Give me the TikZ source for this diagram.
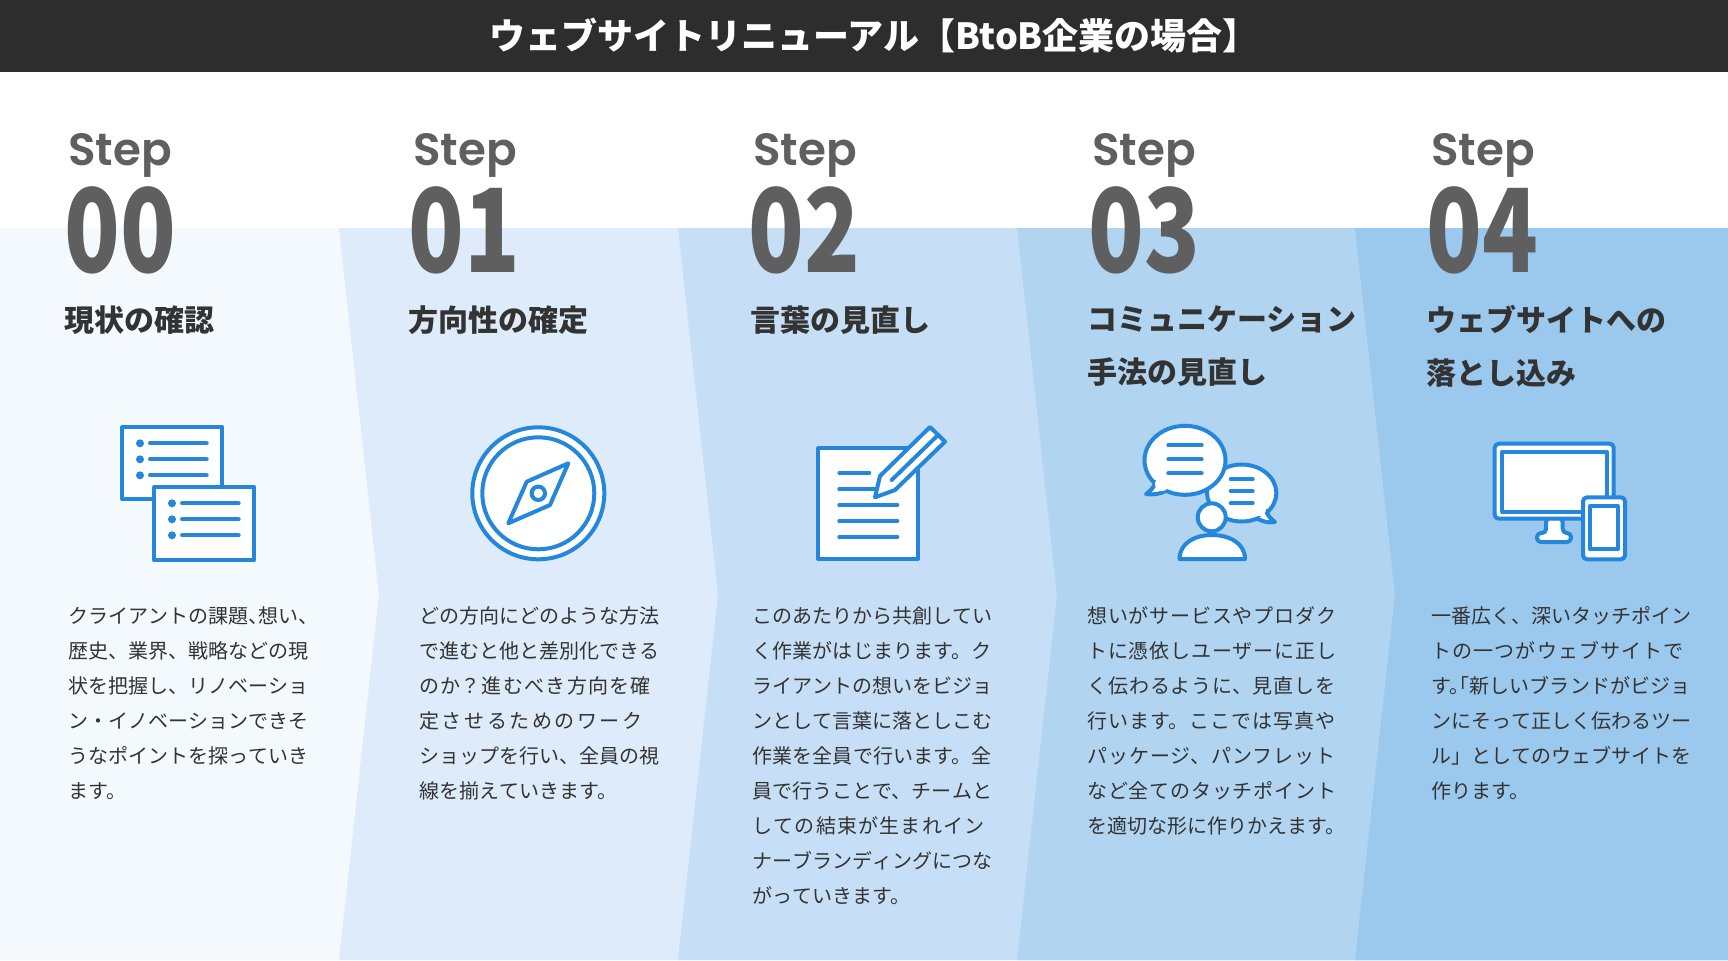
\documentclass[tikz,border=0pt]{standalone}
\usepackage{fontspec}
\setmainfont{Noto Sans CJK JP}
\newfontfamily\stepfont{Poppins SemiBold}
\newfontfamily\numfont[FakeStretch=0.79]{Noto Sans CJK JP Black}
\definecolor{barcol}{HTML}{2D2D2D}
\definecolor{stepcol}{HTML}{5F5F5F}
\definecolor{headcol}{HTML}{333333}
\definecolor{iconcol}{HTML}{2587DC}
\definecolor{bandA}{HTML}{F4F9FE}
\definecolor{bandB}{HTML}{DDEBFA}
\definecolor{bandC}{HTML}{C7DFF6}
\definecolor{bandD}{HTML}{B1D4F1}
\definecolor{bandE}{HTML}{9BC8ED}
\tikzset{
  steplabel/.style={anchor=base west,inner sep=0pt,text=stepcol,font=\stepfont\fontsize{22.6}{23}\selectfont},
  numlabel/.style={anchor=base west,inner sep=0pt,text=stepcol,font=\numfont\fontsize{58}{58}\selectfont},
  headlabel/.style={anchor=north west,inner sep=0pt,align=left,text=headcol,font=\bfseries\fontsize{15}{26.5}\selectfont},
  bodytext/.style={anchor=north west,inner sep=0pt,text=headcol,font=\fontsize{10}{17.5}\selectfont},
  iconline/.style={draw=iconcol,line width=2pt,line join=round,line cap=round,fill=white},
  iconrow/.style={draw=iconcol,line width=2pt,line cap=round},
}
% one justified block: all lines but the last fill the width
\newcommand{\fitlines}[1]{\XeTeXlinebreaklocale "ja"\XeTeXlinebreakskip=0pt plus 3pt minus 0.4pt
  \tolerance=10000 \parindent=0pt \parfillskip=0pt #1}
\newcommand{\lastline}[1]{\par\parfillskip=0pt plus 1fil #1\par}
\newcommand{\kanagap}{\hskip 0pt plus 3pt\relax}
\begin{document}
\begin{tikzpicture}[x=0.5pt,y=-0.5pt]
  \useasboundingbox (0,0) rectangle (1728,960);
  % Bands
  \fill[white] (0,0) rectangle (1728,960);
  \fill[bandA] (0,228) rectangle (1728,960);
  \fill[bandB] (339,228) -- (1728,228) -- (1728,960) -- (339,960) -- (379,595) -- cycle;
  \fill[bandC] (678,228) -- (1728,228) -- (1728,960) -- (678,960) -- (718,595) -- cycle;
  \fill[bandD] (1017,228) -- (1728,228) -- (1728,960) -- (1017,960) -- (1057,595) -- cycle;
  \fill[bandE] (1355,228) -- (1728,228) -- (1728,960) -- (1355,960) -- (1395,595) -- cycle;
  % Title
  \fill[barcol] (0,0) rectangle (1728,72);
  \node[text=white,inner sep=0pt,font=\bfseries\fontsize{18}{18}\selectfont] (title) at (874,36) {ウェブサイトリニューアル【BtoB企業の場合】};
  % Steps
  \foreach \i/\sx/\nx/\num in {0/68/64/00,1/413/408/01,2/753/748/02,3/1092/1088/03,4/1431/1426/04} {
    \node[steplabel] (step\i) at (\sx,165.5) {Step};
    \node[numlabel] (num\i) at (\nx,272) {\num};
  }
  % Headings
  \node[headlabel] (head0) at (64,305.5) {現状の確認};
  \node[headlabel] (head1) at (408,305.5) {方向性の確定};
  \node[headlabel] (head2) at (750,305.5) {言葉の見直し};
  \node[headlabel] (head3) at (1087,305.5) {コミュニケーション\\手法の見直し};
  \node[headlabel] (head4) at (1426,304.5) {ウェブサイトへの\\落とし込み};
  % Icon: two lists
  \draw[iconline] (122.3,427.3) rectangle (222.3,499.3);
  \draw[iconline] (154.3,487.3) rectangle (254.3,560);
  \foreach \y in {443.3,459.3,475.3} {
    \fill[iconcol] (140,\y) circle (4);
    \draw[iconrow] (150,\y) -- (206.7,\y);
  }
  \foreach \y in {503.3,519.3,535.3} {
    \fill[iconcol] (172,\y) circle (4);
    \draw[iconrow] (182,\y) -- (238.7,\y);
  }
  % Icon: compass
  \draw[iconline] (538.3,493.3) circle (66);
  \draw[iconline] (538.3,493.3) circle (56);
  \draw[iconline,fill=none] (568.3,463.3) -- (526.7,481.7) -- (508.3,523.3) -- (550,505) -- cycle;
  \draw[iconline,fill=none] (538.3,493.3) circle (6.7);
  % Icon: sheet and pencil
  \draw[iconline] (818.3,448.3) rectangle (918,559);
  \draw[iconrow] (839.3,472.7) -- (869.3,472.7);
  \draw[iconrow] (839.3,489) -- (876,489);
  \foreach \y in {505,521,537} {
    \draw[iconrow] (839.3,\y) -- (897.3,\y);
  }
  \draw[iconline] (875,497.3) -- (880,476) -- (930,427) -- (945,441.7) -- (895,490) -- cycle;
  \draw[iconrow] (891.7,480) -- (938,435);
  % Icon: talking person
  \draw[iconline] (1241.7,493) ellipse (34.6 and 28.5);
  \draw[iconline] (1266,511) .. controls (1268,516) and (1271,519) .. (1275,522) .. controls (1269,523) and (1264,522) .. (1258,519);
  \fill[white] (1259,509) circle (7);
  \foreach \y in {479.3,491.3,503.3} {
    \draw[iconrow] (1230.7,\y) -- (1252.7,\y);
  }
  \draw[iconline] (1185,460.3) ellipse (40.5 and 34.5);
  \draw[iconline] (1155,482) .. controls (1155,487) and (1150,491) .. (1146,494) .. controls (1153,495) and (1160,494) .. (1166,491);
  \fill[white] (1162,484) circle (7);
  \foreach \y in {445,459.3,473.3} {
    \draw[iconrow] (1168.3,\y) -- (1201.7,\y);
  }
  \draw[iconline] (1211.7,517.3) circle (14);
  \draw[iconline] (1179.5,559) .. controls (1179.5,543) and (1195,535) .. (1212,535) .. controls (1229,535) and (1245,543) .. (1245,559) -- cycle;
  % Icon: screen and tablet
  \draw[iconline,rounded corners=2pt] (1546,533) -- (1546,518) -- (1562.7,518) -- (1562.7,533) -- (1571,533) -- (1571,542) -- (1537,542) -- (1537,533) -- cycle;
  \draw[iconline,rounded corners=2pt] (1494.7,443.7) rectangle (1613.7,518.7);
  \draw[iconline] (1502.3,451.7) rectangle (1606.7,511.7);
  \draw[iconline,rounded corners=2pt] (1583,497.3) rectangle (1625,559.3);
  \draw[iconline] (1590,506) rectangle (1617.7,549.3);
  % Body text
  \node[bodytext,text width=120pt] (body0) at (68,606) {\fitlines{クライアントの課題、\kern-5pt想い、\kern-5pt\par 歴史、業界、戦略などの現\par 状を把握し、リノベーショ\par ン・イノベーションできそ\par うなポイントを探っていき\lastline{ます。}}};
  \node[bodytext,text width=120pt] (body1) at (419,606) {\fitlines{どの方向にどのような方法\par で進むと他と差別化できる\par のか？進むべき方向を確\par 定させるためのワ\kanagap ー\kanagap ク\par ショップを行い、全員の視\lastline{線を揃えていきます。}}};
  \node[bodytext,text width=120pt] (body2) at (752,606) {\fitlines{このあたりから共創してい\par く作業がはじまります。ク\par ライアントの想いをビジョ\par ンとして言葉に落としこむ\par 作業を全員で行います。全\par 員で行うことで、チームと\par しての結束が生まれイン\par ナーブランディングにつな\lastline{がっていきます。}}};
  \node[bodytext,text width=127pt] (body3) at (1087,606) {\fitlines{想いがサービスやプロダク\par トに憑依しユーザーに正し\par く伝わるように、見直しを\par 行います。ここでは写真や\par パッケージ、パンフレット\par など全てのタッチポイント\lastline{を適切な形に作りかえます。\kern-5pt}}};
  \node[bodytext,text width=130pt] (body4) at (1431,606) {\fitlines{一番広く、深いタッチポイン\par トの一つがウェブサイトで\par す。\kern-10pt「新しいブランドがビジョ\par ンにそって正しく伝わるツー\par ル」としてのウェブサイトを\lastline{作ります。}}};
\end{tikzpicture}
\end{document}
